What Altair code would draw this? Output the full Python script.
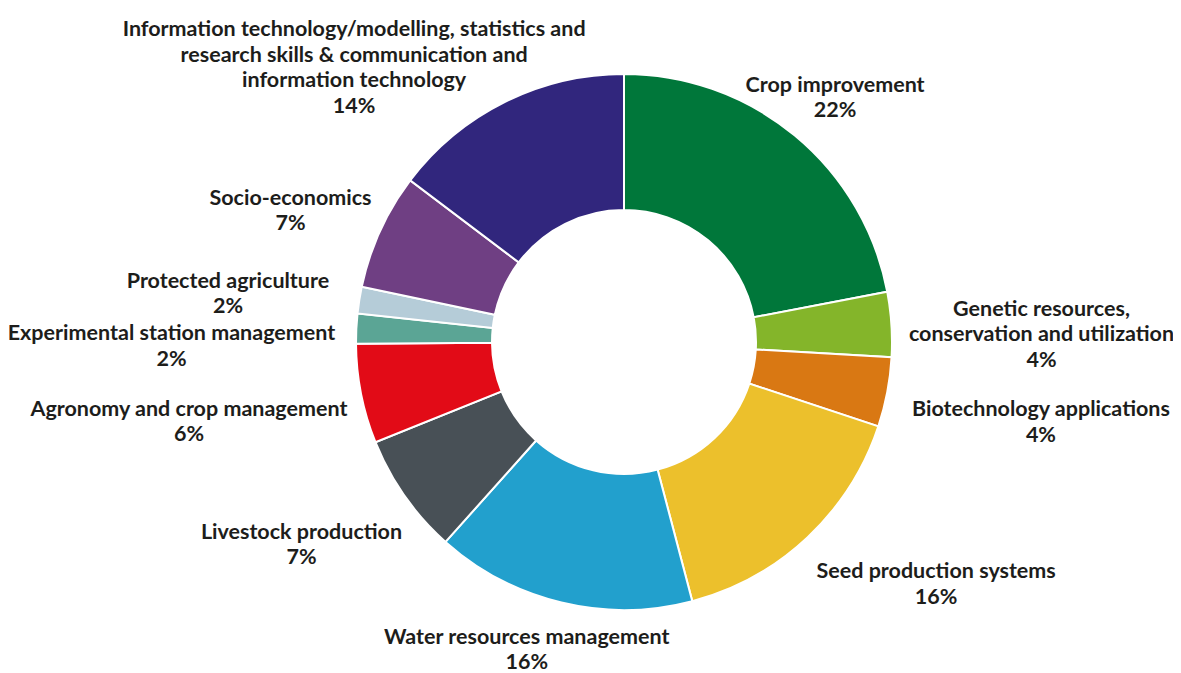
import math
import altair as alt
import pandas as pd

# ---- data ----
categories = [
    "Crop improvement",
    "Genetic resources, conservation and utilization",
    "Biotechnology applications",
    "Seed production systems",
    "Water resources management",
    "Livestock production",
    "Agronomy and crop management",
    "Experimental station management",
    "Protected agriculture",
    "Socio-economics",
    "Information technology/modelling, statistics and research skills & communication and information technology",
]
label_text = [
    "Crop improvement\n22%",
    "Genetic resources,\nconservation and utilization\n4%",
    "Biotechnology applications\n4%",
    "Seed production systems\n16%",
    "Water resources management\n16%",
    "Livestock production\n7%",
    "Agronomy and crop management\n6%",
    "Experimental station management\n2%",
    "Protected agriculture\n2%",
    "Socio-economics\n7%",
    "Information technology/modelling, statistics and\nresearch skills & communication and\ninformation technology\n14%",
]
shares = [22.0, 3.9, 4.2, 15.8, 15.7, 7.3, 6.0, 1.8, 1.6, 7.0, 14.7]
colors = ["#00773A", "#84B52A", "#D97813", "#ECC02C", "#22A0CD", "#485056",
          "#E20B17", "#5BA595", "#B5CCD8", "#6F3F83", "#31267D"]

# ---- label layout: polar position of each label block's centre ----
label_angle_deg = [40.7, 88.8, 100.7, 127.7, 197.6, 238.0, 259.8, 269.6, 277.1, 291.7, 315.6]
label_radius = [323.7, 417.6, 424.3, 394.5, 321.5, 380.3, 442, 452.5, 399.1, 358.9, 385.7]
LINE_H = 25.5
Y_SHIFT = 2

# Vega anchors a multi-line text at its first line: move anchor up by half the block
anchor_theta, anchor_r = [], []
for txt, a, r in zip(label_text, label_angle_deg, label_radius):
    n = txt.count("\n") + 1
    px = r * math.sin(math.radians(a))
    py = -r * math.cos(math.radians(a)) - (n - 1) / 2 * LINE_H + Y_SHIFT
    anchor_theta.append(math.atan2(px, -py))
    anchor_r.append(math.hypot(px, py))

df = pd.DataFrame({
    "category": categories,
    "share": shares,
    "idx": list(range(len(categories))),
    "label": label_text,
    "label_theta": anchor_theta,
    "label_r": anchor_r,
})

CX, CY = 616, 334

arcs = alt.Chart(df).mark_arc(
    innerRadius=132, outerRadius=268, stroke="white", strokeWidth=2
).encode(
    x=alt.value(CX),
    y=alt.value(CY),
    theta=alt.Theta("share:Q", stack=True),
    order=alt.Order("idx:Q"),
    color=alt.Color("category:N", scale=alt.Scale(domain=categories, range=colors), legend=None),
)

labels = alt.Chart(df).mark_text(
    font="Lato", fontWeight="bold", fontSize=21.5, lineBreak="\n", lineHeight=LINE_H,
    align="center", baseline="middle", color="#1d1d1b"
).encode(
    x=alt.value(CX),
    y=alt.value(CY),
    theta=alt.Theta("label_theta:Q", scale=None, stack=False),
    radius=alt.Radius("label_r:Q", scale=None),
    text="label:N",
)

chart = alt.layer(arcs, labels).resolve_scale(theta="independent").properties(
    width=1165, height=665, padding=0,
    autosize=alt.AutoSizeParams(type="none"),
).configure_view(stroke=None)

chart.save("out.html", embed_options={"renderer": "svg", "actions": False})
